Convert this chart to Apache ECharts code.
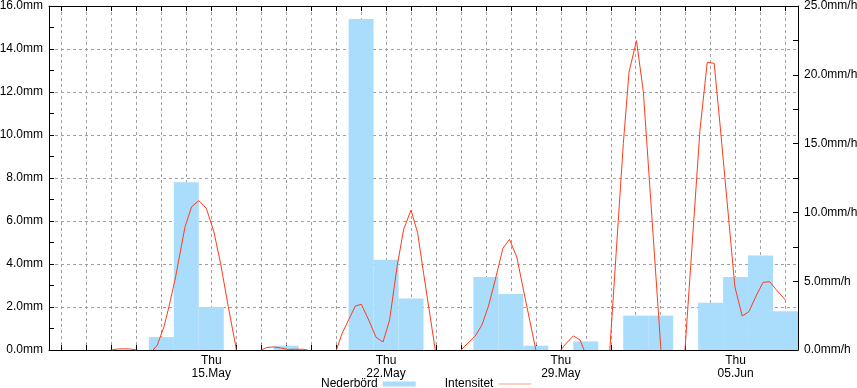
<!DOCTYPE html>
<html>
<head>
<meta charset="utf-8">
<script src="https://cdn.jsdelivr.net/npm/echarts@6/dist/echarts.min.js"></script>
<style>html,body{margin:0;padding:0;background:#fff}#c{width:857px;height:388px}</style>
</head>
<body>
<div id="c"></div>
<script>
// Daily precipitation (mm), one value per day from 09 May to 07 Jun
const days = ['2025-05-09','2025-05-10','2025-05-11','2025-05-12','2025-05-13','2025-05-14','2025-05-15','2025-05-16','2025-05-17','2025-05-18',
  '2025-05-19','2025-05-20','2025-05-21','2025-05-22','2025-05-23','2025-05-24','2025-05-25','2025-05-26','2025-05-27','2025-05-28',
  '2025-05-29','2025-05-30','2025-05-31','2025-06-01','2025-06-02','2025-06-03','2025-06-04','2025-06-05','2025-06-06','2025-06-07'];
const precipitation = [0, 0, 0, 0, 0.6, 7.8, 2.0, 0, 0, 0.2,
  0, 0, 15.4, 4.2, 2.4, 0, 0, 3.4, 2.6, 0.2,
  0, 0.4, 0, 1.6, 1.6, 0, 2.2, 3.4, 4.4, 1.8];

// Rain intensity (mm/h); null separates rain events
const intensityTimes = [
  '2025-05-11 00:00','2025-05-11 06:00','2025-05-11 12:45','2025-05-11 19:30','2025-05-12 00:00',
  '2025-05-12 08:00',
  '2025-05-12 16:00','2025-05-12 20:10','2025-05-13 02:30','2025-05-13 07:20','2025-05-13 13:45','2025-05-13 22:40','2025-05-14 05:05','2025-05-14 12:05','2025-05-14 19:10','2025-05-15 02:30','2025-05-15 08:55','2025-05-15 16:20','2025-05-15 23:20','2025-05-16 00:00',
  '2025-05-16 12:00',
  '2025-05-17 00:00','2025-05-17 05:05','2025-05-17 11:50','2025-05-17 18:30','2025-05-18 02:10','2025-05-18 09:00','2025-05-18 15:40','2025-05-18 20:30',
  '2025-05-19 12:00',
  '2025-05-20 00:15','2025-05-20 05:45','2025-05-20 18:30','2025-05-21 00:15','2025-05-21 07:20','2025-05-21 14:25','2025-05-21 21:05','2025-05-22 03:25','2025-05-22 10:35','2025-05-22 16:55','2025-05-23 00:00','2025-05-23 06:20','2025-05-23 12:05','2025-05-23 23:20',
  '2025-05-24 12:00',
  '2025-05-25 00:00','2025-05-25 13:45','2025-05-25 20:10','2025-05-26 02:30','2025-05-26 08:55','2025-05-26 16:20','2025-05-26 22:40','2025-05-27 05:45','2025-05-27 12:05','2025-05-28 00:00',
  '2025-05-28 12:00',
  '2025-05-29 00:00','2025-05-29 05:05','2025-05-29 12:05','2025-05-29 18:30','2025-05-29 22:20',
  '2025-05-30 12:00',
  '2025-05-30 23:05','2025-05-31 12:05','2025-05-31 17:35','2025-06-01 00:45','2025-06-01 07:20','2025-06-02 00:15',
  '2025-06-02 12:00',
  '2025-06-02 23:20','2025-06-03 13:45','2025-06-03 20:45','2025-06-04 03:25','2025-06-04 08:55','2025-06-04 23:20','2025-06-05 06:20','2025-06-05 12:45','2025-06-05 20:10','2025-06-06 02:30','2025-06-06 08:55','2025-06-06 15:20','2025-06-07 00:00'
];
const intensityValues = [
  0, 0.07, 0.09, 0.06, 0,
  null,
  0, 0.36, 1.69, 3.15, 5.33, 8.92, 10.41, 10.85, 10.3, 8.6, 6.3, 3.15, 0.36, 0,
  null,
  0, 0.18, 0.22, 0.15, 0.04, 0.05, 0.06, 0,
  null,
  0, 1.21, 3.2, 3.32, 2.18, 0.92, 0.58, 2.18, 6.05, 8.77, 10.17, 8.52, 5.57, 0,
  null,
  0, 1.02, 1.82, 3.2, 5.09, 7.39, 8.04, 6.74, 4.36, 0,
  null,
  0, 0.48, 1.02, 0.73, 0,
  null,
  0, 15.0, 20.2, 22.48, 18.77, 0,
  null,
  0, 15.99, 20.91, 20.84, 16.48, 4.6, 2.47, 2.78, 4.0, 4.92, 4.96, 4.36, 3.63
];

const leftTicks = { min: 0, max: 16, step: 2, unit: 'mm' };
const rightTicks = { min: 0, max: 25, step: 5, unit: 'mm/h' };
const timeStart = '2025-05-08 12:00';
const timeEnd = '2025-06-07 12:00';

const weekday = ['Sun','Mon','Tue','Wed','Thu','Fri','Sat'];
const monthName = ['Jan','Feb','Mar','Apr','May','Jun','Jul','Aug','Sep','Oct','Nov','Dec'];
const FONT = 'Liberation Sans, Arial, Helvetica, sans-serif';
const dash = { color: '#a0a0a0', width: 1, type: [3, 3] };
const LINE_COLOR = '#ff3c1a';
const BAR_COLOR = '#aadcfc';

const chart = echarts.init(document.getElementById('c'), null, { renderer: 'canvas' });
const DAY = 86400000;

chart.setOption({
  animation: false,
  backgroundColor: '#fff',
  textStyle: { fontFamily: FONT },
  grid: { left: 49, right: 59, top: 6, bottom: 38, containLabel: false, outerBoundsMode: 'none' },
  legend: {
    top: 378, left: 321, padding: 0, align: 'right',
    itemWidth: 33, itemHeight: 5, itemGap: 29,
    textStyle: { fontFamily: FONT, fontSize: 12, color: '#000' },
    data: [
      { name: 'Nederbörd', icon: 'rect' },
      { name: 'Intensitet', icon: 'path://M0,0L100,0L100,1L0,1Z', itemStyle: { color: LINE_COLOR } }
    ]
  },
  xAxis: [
    { type: 'category', data: days, boundaryGap: true, show: false, gridIndex: 0 },
    {
      type: 'time', min: timeStart, max: timeEnd, position: 'bottom',
      splitNumber: 30, minInterval: DAY, maxInterval: DAY,
      axisLine: { show: true, lineStyle: { color: '#000', width: 1 } },
      axisTick: { show: true, inside: true, length: 5, lineStyle: { color: '#000' } },
      splitLine: { show: true, lineStyle: dash },
      axisLabel: {
        show: true, interval: 0, margin: 4, color: '#000', fontSize: 12, fontFamily: FONT, lineHeight: 13,
        showMinLabel: false, showMaxLabel: false,
        formatter: function (v) {
          const d = new Date(v);
          if (d.getHours() !== 0 || d.getMinutes() !== 0 || d.getDay() !== 4) return '';
          const dd = (d.getDate() < 10 ? '0' : '') + d.getDate();
          return weekday[d.getDay()] + '\n' + dd + '.' + monthName[d.getMonth()];
        }
      }
    },
    {
      type: 'time', min: timeStart, max: timeEnd, position: 'top',
      splitNumber: 30, minInterval: DAY, maxInterval: DAY,
      axisLine: { show: true, lineStyle: { color: '#000', width: 1 } },
      axisTick: { show: true, inside: true, length: 5, lineStyle: { color: '#000' } },
      splitLine: { show: false },
      axisLabel: { show: false }
    }
  ],
  yAxis: [
    {
      type: 'value', position: 'left', min: leftTicks.min, max: leftTicks.max, interval: leftTicks.step,
      axisLine: { show: true, lineStyle: { color: '#000', width: 1 } },
      axisTick: { show: true, inside: true, length: 5, lineStyle: { color: '#000' } },
      minorTick: { show: true, splitNumber: 2, length: 5, lineStyle: { color: '#000' } },
      splitLine: { show: true, lineStyle: dash },
      axisLabel: { color: '#000', fontSize: 12, fontFamily: FONT, margin: 6,
        formatter: v => v.toFixed(1) + leftTicks.unit }
    },
    {
      type: 'value', position: 'right', min: rightTicks.min, max: rightTicks.max, interval: rightTicks.step,
      axisLine: { show: true, lineStyle: { color: '#000', width: 1 } },
      axisTick: { show: true, inside: true, length: 5, lineStyle: { color: '#000' } },
      minorTick: { show: true, splitNumber: 2, length: 5, lineStyle: { color: '#000' } },
      splitLine: { show: false },
      axisLabel: { color: '#000', fontSize: 12, fontFamily: FONT, margin: 6,
        formatter: v => v.toFixed(1) + rightTicks.unit }
    }
  ],
  series: [
    {
      name: 'Nederbörd', type: 'bar', xAxisIndex: 0, yAxisIndex: 0,
      data: precipitation, barWidth: '100%', barGap: '0%', barCategoryGap: '0%',
      itemStyle: { color: BAR_COLOR }
    },
    {
      name: 'Intensitet', type: 'line', xAxisIndex: 1, yAxisIndex: 1,
      data: intensityTimes.map((t, i) => [t, intensityValues[i] === null ? '-' : intensityValues[i]]),
      symbol: 'none', connectNulls: false,
      lineStyle: { color: LINE_COLOR, width: 1 },
      itemStyle: { color: LINE_COLOR }
    }
  ]
});
</script>
</body>
</html>
